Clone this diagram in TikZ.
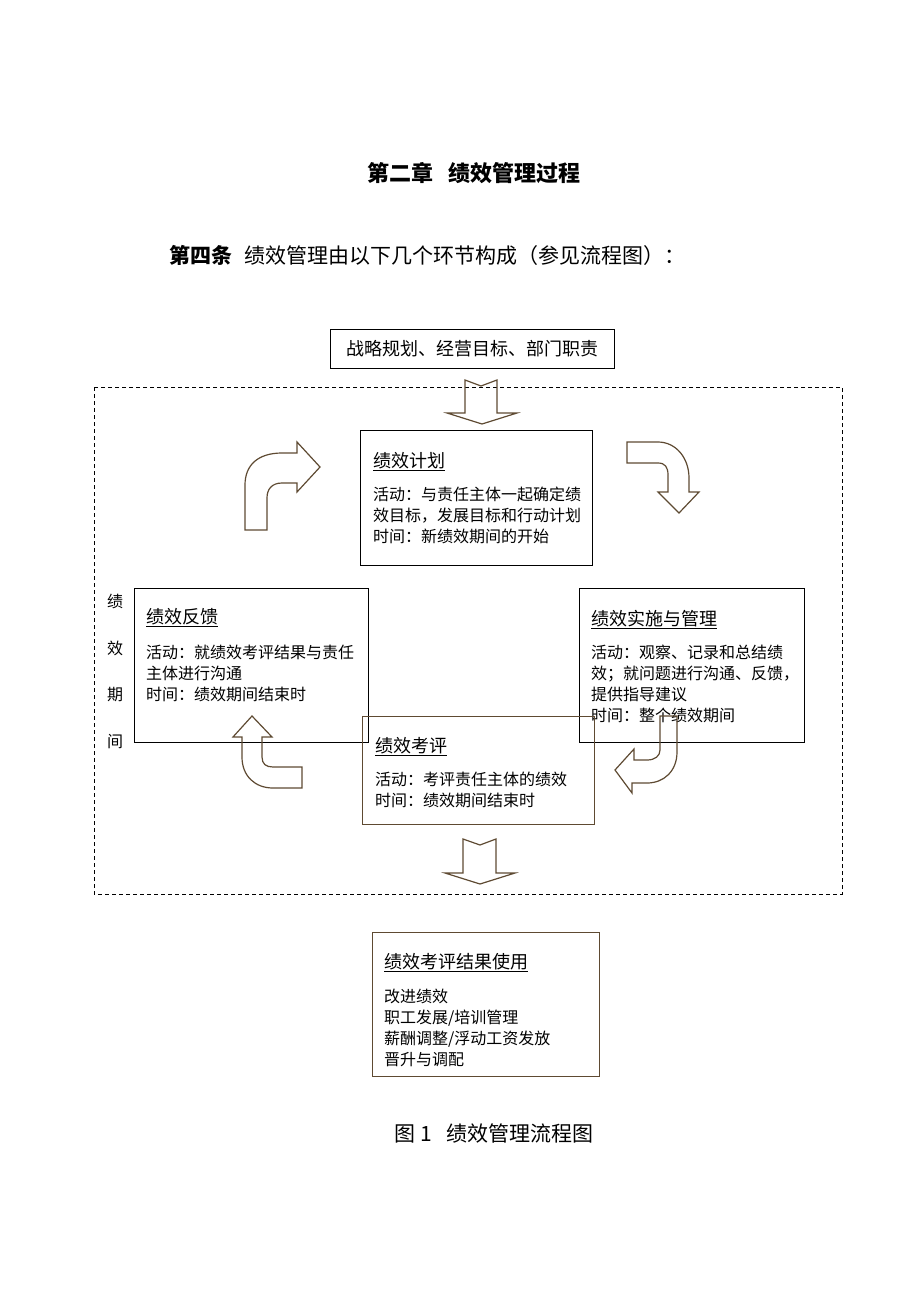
\documentclass[tikz,border=0pt]{standalone}
\usepackage{fontspec}
\setmainfont{Noto Sans CJK SC}
\usepackage{xcolor}
\usetikzlibrary{positioning}
\definecolor{arrbrown}{HTML}{5E4A32}

\begin{document}
\begin{tikzpicture}[x=1pt,y=-1pt,
    phase/.style={draw,line width=1pt,anchor=north west,inner sep=0pt},
    phasetext/.style={anchor=north west,inner sep=0pt,align=left,font=\fontsize{16pt}{21pt}\selectfont},
    blockarrow/.style={draw=arrbrown,line width=1.2pt,line join=miter}]
    \useasboundingbox (0,0) rectangle (920,1302);

    % headings
    \node (chapter) at (474,173) {\fontsize{22pt}{26pt}\selectfont\bfseries 第二章\hspace{0.7em}绩效管理过程};
    \node[anchor=west,inner sep=0pt] (article) at (169,255) {\fontsize{21pt}{25pt}\selectfont{\bfseries 第四条}\hspace{0.6em}绩效管理由以下几个环节构成（参见流程图）：};

    \node (strategy) [draw,line width=1pt,minimum width=284pt,minimum height=39pt,font=\fontsize{18pt}{21pt}\selectfont] at (472,348.5) {战略规划、经营目标、部门职责};

    % period frame
    \draw[line width=1pt,dash pattern=on 4pt off 3pt] (94,387) rectangle (842,894);
    \foreach \ch [count=\i] in {绩,效,期,间}
        \node[font=\fontsize{16pt}{20pt}\selectfont] (period\i) at (115,554+47*\i) {\ch};

    % phases
    \node (plan) [phase,minimum width=232pt,minimum height=135pt] at (360,430) {};
    \node (plantext) [phasetext,below right=22pt and 13pt of plan.north west]
        {{\fontsize{18pt}{21pt}\selectfont\underline{绩效计划}}\\[12pt]
         活动：与责任主体一起确定绩\\效目标，发展目标和行动计划\\时间：新绩效期间的开始};

    \node (feedback) [phase,minimum width=234pt,minimum height=154pt] at (134,588) {};
    \node (feedbacktext) [phasetext,below right=20pt and 12pt of feedback.north west]
        {{\fontsize{18pt}{21pt}\selectfont\underline{绩效反馈}}\\[14pt]
         活动：就绩效考评结果与责任\\主体进行沟通\\时间：绩效期间结束时};

    \node (execution) [phase,minimum width=225pt,minimum height=154pt] at (579,588) {};
    \node (executiontext) [phasetext,below right=22pt and 12pt of execution.north west]
        {{\fontsize{18pt}{21pt}\selectfont\underline{绩效实施与管理}}\\[12pt]
         活动：观察、记录和总结绩\\效；就问题进行沟通、反馈，\\提供指导建议\\时间：整个绩效期间};

    \node (appraisal) [phase,draw=arrbrown,minimum width=232pt,minimum height=108pt] at (362,716) {};
    \node (appraisaltext) [phasetext,below right=21pt and 13pt of appraisal.north west]
        {{\fontsize{18pt}{21pt}\selectfont\underline{绩效考评}}\\[12pt]
         活动：考评责任主体的绩效\\时间：绩效期间结束时};

    \node (usage) [phase,draw=arrbrown,minimum width=227pt,minimum height=144pt] at (372,932) {};
    \node (usagetext) [phasetext,below right=21pt and 12pt of usage.north west]
        {{\fontsize{18pt}{21pt}\selectfont\underline{绩效考评结果使用}}\\[13pt]
         改进绩效\\职工发展/培训管理\\薪酬调整/浮动工资发放\\晋升与调配};

    % block arrows
    \draw[blockarrow] (465,380) -- (481,386) -- (497,380) -- (497,413) -- (517,413)
        -- (482,424) -- (447,413) -- (465,413) -- cycle;
    \draw[blockarrow] (463,839) -- (480,845) -- (496,839) -- (496,873) -- (515,873)
        -- (480,884) -- (445,873) -- (463,873) -- cycle;
    \draw[blockarrow] (245,530) -- (245,485) .. controls (245,465) and (258,453) .. (282,453)
        -- (297,453) -- (297,442) -- (320,467) -- (297,492) -- (297,483) -- (282,483)
        .. controls (272,483) and (267,489) .. (267,498) -- (267,530) -- cycle;
    \draw[blockarrow] (627,442) -- (658,442) .. controls (676,442) and (689,458) .. (689,478)
        -- (689,492) -- (699,492) -- (679,513) -- (658,492) -- (668,492) -- (668,475)
        .. controls (668,467) and (665,463) .. (658,463) -- (627,463) -- cycle;
    \draw[blockarrow] (660,716) -- (677,716) -- (677,752) .. controls (677,771) and (664,783) .. (647,783)
        -- (632,783) -- (632,793) -- (615,770) -- (634,749) -- (634,760) -- (647,760)
        .. controls (655,760) and (660,756) .. (660,750) -- cycle;
    \draw[blockarrow] (252,716) -- (272,737) -- (262,737) -- (262,757) .. controls (262,764) and (266,767) .. (273,767)
        -- (302,767) -- (302,788) -- (273,788) .. controls (255,788) and (242,776) .. (242,757)
        -- (242,737) -- (233,737) -- cycle;

    \node[font=\fontsize{21pt}{25pt}\selectfont] (caption) at (494,1133) {图 1\hspace{0.7em}绩效管理流程图};
\end{tikzpicture}
\end{document}
